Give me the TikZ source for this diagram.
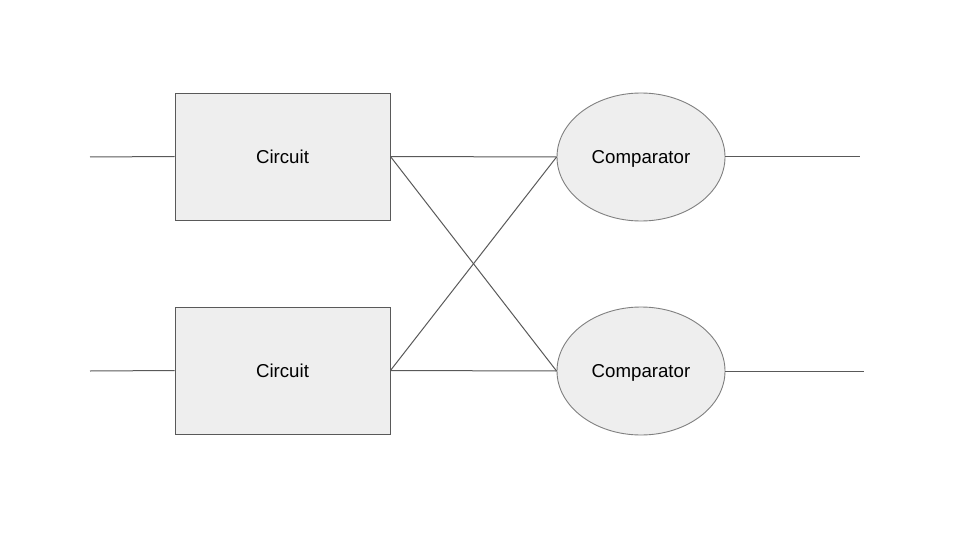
\documentclass[tikz,border=0pt]{standalone}
\usepackage{fontspec}
\setmainfont{Liberation Sans}
\definecolor{boxfill}{HTML}{EEEEEE}
\definecolor{wire}{HTML}{595959}
\definecolor{ringline}{HTML}{7F7F7F}
\usetikzlibrary{shapes.geometric}
\tikzset{
  circbox/.style={draw=wire, fill=boxfill, line width=0.9pt, minimum width=215pt, minimum height=127pt, inner sep=0pt, text depth=0pt, font=\fontsize{18.67}{22}\selectfont},
  compbox/.style={ellipse, draw=ringline, fill=boxfill, line width=0.9pt, minimum width=168pt, minimum height=128pt, inner sep=0pt, text depth=0pt, font=\fontsize{18.67}{22}\selectfont},
  wireline/.style={draw=wire, line width=1pt}
}
\begin{document}
\begin{tikzpicture}[x=1pt, y=-1pt]
      \useasboundingbox (0,0) rectangle (960,540);
      \draw
        (282.5,156.5) node[circbox] (c1){Circuit}
        (282.5,370.5) node[circbox] (c2){Circuit}
        (641,157) node[compbox] (k1){Comparator}
        (641,371) node[compbox] (k2){Comparator};
      \coordinate (in1) at (90,157);
      \coordinate (in2) at (90,371);
      \coordinate (out1) at (860,157);
      \coordinate (out2) at (864,371);
      \begin{scope}[wireline]
        \draw (in1) to (c1.west);
        \draw (in2) to (c2.west);
        \draw (c1.east) to (k1.west);
        \draw (c1.east) to (k2.west);
        \draw (c2.east) to (k1.west);
        \draw (c2.east) to (k2.west);
        \draw (k1.east) to (out1);
        \draw (k2.east) to (out2);
      \end{scope}
    \end{tikzpicture}
\end{document}
